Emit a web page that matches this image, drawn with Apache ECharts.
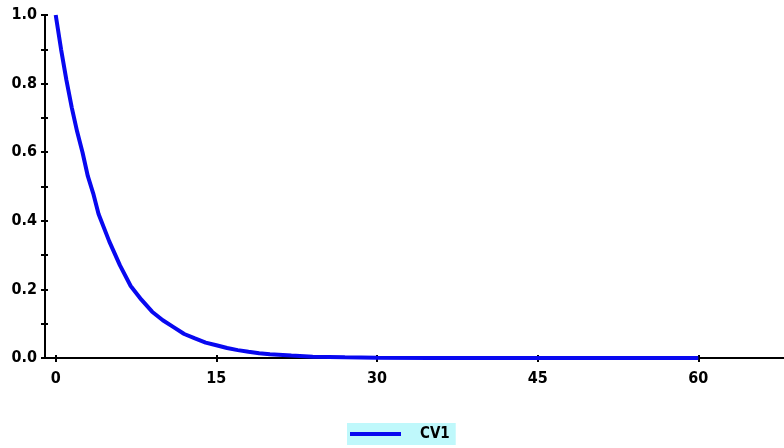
<!DOCTYPE html>
<html>
<head>
<meta charset="utf-8">
<script src="https://cdn.jsdelivr.net/npm/echarts@6/dist/echarts.min.js"></script>
<style>
  html, body { margin: 0; padding: 0; background: #fff; }
  #chart { width: 784px; height: 448px; }
</style>
</head>
<body>
<div id="chart"></div>
<script>
// values
var times = [0, 0.5, 1, 1.5, 2, 2.5, 3, 3.5, 4, 5, 6, 7, 8, 9, 10, 11, 12, 13, 14, 15, 16, 17, 18, 19, 20, 22, 24, 27, 30, 35, 40, 45, 50, 55, 60];
var cv1 = [1.0, 0.9, 0.81, 0.73, 0.66, 0.6, 0.53, 0.48, 0.42, 0.34, 0.27, 0.21, 0.17, 0.135, 0.11, 0.09, 0.07, 0.057, 0.045, 0.037, 0.029, 0.023, 0.018, 0.014, 0.011, 0.007, 0.004, 0.002, 0.001, 0, 0, 0, 0, 0, 0];
var xLabels = [0, 15, 30, 45, 60];
var yLabels = [0, 0.2, 0.4, 0.6, 0.8, 1.0];
var yTicks = [0, 0.1, 0.2, 0.3, 0.4, 0.5, 0.6, 0.7, 0.8, 0.9, 1.0];

var chart = echarts.init(document.getElementById('chart'));

var lab = {
    fontFamily: 'DejaVu Sans Condensed',
    fontWeight: 'bold',
    fontSize: 16,
    color: '#000'
};
var tickStyle = { color: '#000', width: 2 };

var pts = times.map(function (t, i) { return [t, cv1[i]]; });

option = {
    backgroundColor: '#fff',
    animation: false,
    grid: { left: 45, top: 15, right: 0, bottom: 90 },
    legend: {
        left: 347,
        top: 423,
        padding: [0, 6, 0, 3],
        backgroundColor: '#bff8fb',
        itemWidth: 51,
        itemHeight: 4,
        data: [{ name: 'CV1', icon: 'rect' }],
        textStyle: {
            fontFamily: 'DejaVu Sans Condensed',
            fontWeight: 'bold',
            fontSize: 15,
            color: '#000',
            lineHeight: 22,
            padding: [0, 0, 0, 14]
        }
    },
    xAxis: [{
        type: 'value',
        min: -1,
        max: 68,
        axisLine: { show: true, onZero: false, lineStyle: { color: '#000', width: 2 } },
        axisTick: { show: false },
        axisLabel: Object.assign({ customValues: xLabels, margin: 13 }, lab),
        splitLine: { show: false }
    }, {
        // crossing ticks
        type: 'value',
        min: -1,
        max: 68,
        position: 'bottom',
        offset: -3,
        axisLine: { show: false, onZero: false },
        axisTick: { show: true, customValues: xLabels, length: 7, lineStyle: tickStyle },
        axisLabel: { show: false },
        splitLine: { show: false }
    }],
    yAxis: [{
        type: 'value',
        min: 0,
        max: 1,
        axisLine: { show: true, onZero: false, lineStyle: { color: '#000', width: 2 } },
        axisTick: { show: false },
        axisLabel: Object.assign({
            customValues: yLabels,
            margin: 8,
            formatter: function (v) { return v.toFixed(1); }
        }, lab),
        splitLine: { show: false }
    }, {
        // crossing ticks
        type: 'value',
        min: 0,
        max: 1,
        position: 'left',
        offset: -3,
        axisLine: { show: false, onZero: false },
        axisTick: { show: true, customValues: yTicks, length: 7, lineStyle: tickStyle },
        axisLabel: { show: false },
        splitLine: { show: false }
    }],
    series: [{
        name: 'CV1',
        type: 'line',
        data: pts,
        showSymbol: false,
        smooth: false,
        color: '#0808f0',
        lineStyle: { width: 4, color: '#0808f0' }
    }],
    graphic: [{
        type: 'line',
        shape: { x1: 453, y1: 423, x2: 453, y2: 445 },
        style: { stroke: '#6e9ea0', lineWidth: 1 }
    }]
};

chart.setOption(option);
</script>
</body>
</html>
